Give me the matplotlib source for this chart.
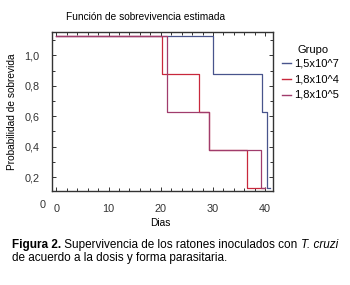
import numpy as np
import matplotlib
matplotlib.use("Agg")
import matplotlib.pyplot as plt
from matplotlib.ticker import MultipleLocator, FuncFormatter

plt.rcParams['font.family'] = ['Liberation Sans', 'DejaVu Sans']

# survival curves (step, post)
groups = ['1,5x10^7', '1,8x10^4', '1,8x10^5']
colors = ['#48548c', '#c8283c', '#a03c6c']

days_a = [0, 30.0, 39.4, 40.3, 41.0]
surv_a = [1.13, 0.88, 0.63, 0.13, 0.13]

days_b = [0, 20.2, 27.3, 29.2, 36.5, 40.0]
surv_b = [1.13, 0.88, 0.63, 0.38, 0.13, 0.13]

days_c = [0, 21.1, 29.2, 39.2, 40.0]
surv_c = [1.13, 0.63, 0.38, 0.13, 0.13]

xticks = [0, 10, 20, 30, 40]
yticks = [0.2, 0.4, 0.6, 0.8, 1.0]

fig = plt.figure(figsize=(3.5, 2.85), dpi=100)
ax = fig.add_axes([52/350, 1-191/285, (273-52)/350, (191-32)/285])

for d, s, c in zip([days_a, days_b, days_c], [surv_a, surv_b, surv_c], colors):
    ax.step(d, s, where='post', color=c, lw=0.9)

ax.set_xlim(-0.84, 41.5)
ax.set_ylim(0.108, 1.154)
ax.set_xticks(xticks)
ax.set_yticks(yticks)
ax.xaxis.set_minor_locator(MultipleLocator(2))
ax.yaxis.set_minor_locator(MultipleLocator(0.1))
ax.yaxis.set_major_formatter(FuncFormatter(lambda v, p: f"{v:.1f}".replace('.', ',')))
ax.tick_params(which='both', direction='in', top=True, right=True,
               labelsize=7.8, colors='#333333', width=0.7)
ax.tick_params(which='major', length=3, pad=9)
ax.tick_params(which='minor', length=2)
for sp in ax.spines.values():
    sp.set_color('#333333')
    sp.set_linewidth(1.0)

ax.set_ylabel('Probabilidad de sobrevida', fontsize=7.3, labelpad=5)
fig.text(160/350, 1-223/285, 'Dias', fontsize=7.3, ha='center', va='center')
fig.text(43/350, 1-205/285, '0', fontsize=7.8, ha='center', va='center', color='#333333')
fig.text(146/350, 1-17/285, 'Función de sobrevivencia estimada', fontsize=7.3,
         ha='center', va='center')

# legend
fig.text(313/350, 1-50/285, 'Grupo', fontsize=8, ha='center', va='center')
for i, (g, c) in enumerate(zip(groups, colors)):
    y = 1 - (63 + i*16)/285
    fig.add_artist(plt.Line2D([282/350, 291/350], [y, y], color=c, lw=1.0))
    fig.text(294/350, y, g, fontsize=8, ha='left', va='center')

# caption: bold / regular / italic pieces placed one after another
cap_fs = 8.5
cap_y = 1 - 245/285
fig.canvas.draw()
r = fig.canvas.get_renderer()
x = 12/350
for txt, kw in [('Figura 2.', dict(weight='bold')),
                (' Supervivencia de los ratones inoculados con ', {}),
                ('T. cruzi', dict(style='italic'))]:
    t = fig.text(x, cap_y, txt, fontsize=cap_fs, ha='left', va='center', **kw)
    x = t.get_window_extent(r).x1 / fig.bbox.width
fig.text(12/350, 1-258.5/285, 'de acuerdo a la dosis y forma parasitaria.',
         fontsize=cap_fs, ha='left', va='center')

fig.savefig('out.png', dpi=100)
